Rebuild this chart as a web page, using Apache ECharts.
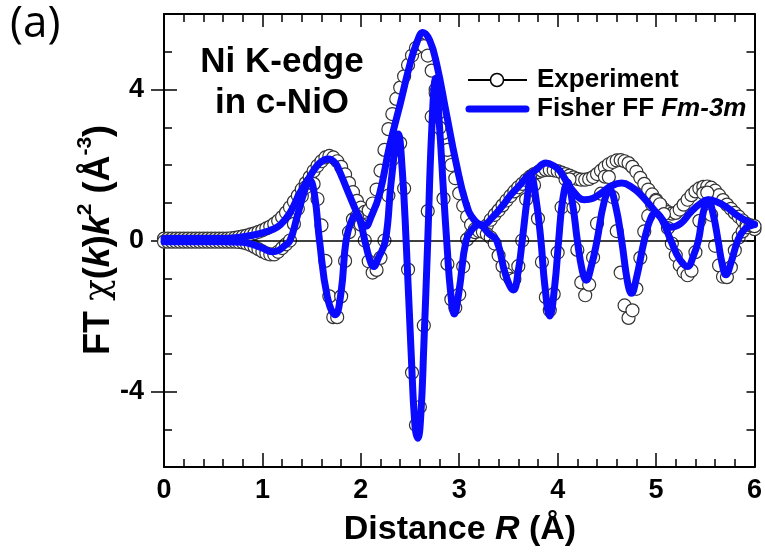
<!DOCTYPE html>
<html>
<head>
<meta charset="utf-8">
<script src="https://cdn.jsdelivr.net/npm/echarts@6/dist/echarts.min.js"></script>
<style>html,body{margin:0;padding:0;background:#fff}#c{width:765px;height:556px}</style>
</head>
<body>
<div id="c"></div>
<script>
// ---- data ----
const X_TICKS = [0, 1, 2, 3, 4, 5, 6];
const Y_TICK_LABELS = [-4, 0, 4];
// Experiment sampled every 0.04 Å from 0 to 6 Å
const EXP_STEP = 0.04;
const EXP_MAG = [
0.05,0.05,0.05,0.05,0.05,0.05,0.05,0.05,0.05,0.05,0.05,0.05,0.05,0.05,0.05,0.05,0.05,0.06,0.07,0.09,
0.11,0.13,0.16,0.19,0.23,0.27,0.32,0.37,0.44,0.52,0.62,0.74,0.88,1.03,1.19,1.36,1.52,1.68,1.84,1.98,
2.10,2.20,2.24,2.20,2.10,1.95,1.75,1.52,1.28,1.05,0.87,0.76,0.80,0.98,1.35,1.85,2.40,2.95,3.35,3.75,
4.05,4.35,4.65,4.90,5.10,5.20,5.15,4.90,4.50,4.00,3.40,2.85,2.40,2.00,1.65,1.25,0.92,0.63,0.42,0.30,
0.25,0.28,0.40,0.55,0.68,0.80,0.93,1.06,1.18,1.30,1.41,1.50,1.60,1.69,1.76,1.81,1.85,1.87,1.87,1.86,
1.84,1.80,1.76,1.72,1.67,1.63,1.61,1.61,1.63,1.68,1.76,1.85,1.94,2.02,2.08,2.12,2.13,2.10,2.05,1.95,
1.82,1.66,1.50,1.35,1.22,1.08,0.95,0.83,0.75,0.71,0.73,0.82,0.95,1.08,1.20,1.30,1.38,1.42,1.43,1.40,
1.32,1.20,1.07,0.95,0.84,0.73,0.63,0.53,0.44,0.36,0.30];
const EXP_IM = [
-0.03,-0.03,-0.03,-0.03,-0.03,-0.03,-0.03,-0.03,-0.03,-0.03,-0.03,-0.03,-0.03,-0.03,-0.03,-0.03,-0.03,-0.03,-0.03,-0.04,
-0.05,-0.08,-0.12,-0.17,-0.23,-0.29,-0.34,-0.37,-0.37,-0.30,-0.20,-0.10,0.00,0.44,0.84,1.17,1.41,1.53,1.50,1.10,
0.40,-0.54,-1.48,-2.03,-2.03,-1.48,-0.54,0.22,0.56,0.64,0.42,0.00,-0.55,-0.85,-0.78,-0.46,0.00,1.19,2.15,2.68,
2.58,1.38,-0.77,-3.50,-4.89,-4.41,-2.25,0.78,3.28,3.91,2.99,1.11,-0.62,-1.56,-1.78,-1.43,-0.69,0.03,0.14,0.22,
0.25,0.23,0.17,0.08,-0.08,-0.40,-0.68,-0.90,-1.02,-1.03,-0.68,0.00,1.09,1.67,1.47,0.58,-0.57,-1.50,-1.85,-1.42,
-0.32,0.88,1.62,1.62,0.87,-0.25,-1.11,-1.45,-1.17,-0.45,0.45,1.24,1.69,1.68,1.15,0.25,-0.85,-1.72,-2.05,-1.85,
-1.28,-0.46,0.24,0.65,0.95,1.05,0.96,0.70,0.33,-0.08,-0.39,-0.65,-0.83,-0.92,-0.80,-0.31,0.52,1.25,1.27,0.68,
-0.14,-0.66,-0.96,-0.97,-0.71,-0.26,0.08,0.24,0.35,0.40,0.38];
// Fisher FF fit (magnitude and imaginary part)
const FIT_MAG_R = [0,0.6,0.8,0.9,1.0,1.1,1.18,1.28,1.38,1.48,1.58,1.67,1.74,1.79,1.89,1.96,2.0,2.05,2.1,2.19,
2.29,2.4,2.5,2.57,2.63,2.7,2.77,2.87,2.97,3.07,3.15,3.24,3.34,3.44,3.52,3.61,3.7,3.78,3.88,3.96,
4.02,4.07,4.16,4.27,4.36,4.45,4.55,4.65,4.75,4.85,4.95,5.05,5.15,5.25,5.35,5.45,5.53,5.62,5.72,5.83,5.92,6.0];
const FIT_MAG = [0.05,0.05,0.1,0.14,0.2,0.29,0.41,0.73,1.26,1.69,2.05,2.16,2.05,1.79,1.16,0.73,0.5,0.38,0.6,1.23,
2.48,3.62,4.68,5.25,5.51,5.3,4.68,3.35,2.03,0.97,0.55,0.41,0.62,0.92,1.2,1.45,1.72,1.87,2.05,1.98,
1.85,1.65,1.3,1.08,1.12,1.27,1.45,1.52,1.42,1.2,0.9,0.6,0.35,0.45,0.75,0.98,1.08,1.02,0.88,0.65,0.52,0.43];
const FIT_IM_R = [0,0.6,0.8,0.9,1.0,1.1,1.16,1.22,1.28,1.35,1.42,1.48,1.53,1.58,1.66,1.74,1.8,1.85,1.91,1.96,
2.0,2.04,2.09,2.13,2.18,2.25,2.31,2.38,2.42,2.46,2.51,2.55,2.58,2.61,2.64,2.68,2.72,2.76,2.8,2.84,
2.88,2.91,2.95,3.0,3.07,3.14,3.2,3.3,3.38,3.47,3.55,3.6,3.64,3.69,3.73,3.78,3.83,3.87,3.92,3.97,
4.01,4.05,4.1,4.15,4.2,4.25,4.29,4.34,4.4,4.47,4.53,4.59,4.65,4.71,4.75,4.8,4.88,4.95,5.0,5.06,
5.15,5.24,5.32,5.38,5.43,5.48,5.53,5.58,5.63,5.67,5.71,5.76,5.83,5.9,6.0];
const FIT_IM = [-0.03,-0.03,-0.05,-0.1,-0.2,-0.3,-0.27,-0.15,0,0.6,1.25,1.6,1.2,0,-1.5,-1.97,-1.35,0,0.55,0.68,
0.45,0,-0.5,-0.69,-0.45,0,1.6,2.82,1.9,0,-2.9,-4.9,-5.24,-4.6,-2.8,0,2.9,4.3,3.0,1.3,
-0.3,-1.3,-1.95,-1.3,0,0.32,0.42,0.18,0,-0.9,-1.31,-0.8,0,1.1,1.73,1.1,0,-1.2,-2.0,-1.2,
0,1.05,1.55,1.0,0,-0.8,-1.05,-0.7,0,1.0,1.34,0.9,0,-1.1,-1.4,-1.0,0,0.62,0.72,0.55,
0,-0.5,-0.69,-0.4,0,0.75,1.07,0.7,0,-0.6,-0.91,-0.6,0,0.3,0.42];

const EXP_NAME = 'Experiment';
const FIT_NAME = 'Fisher FF Fm-3m';

// ---- build ----
const expR = EXP_MAG.map((_, i) => +(i * EXP_STEP).toFixed(2));
const zip = (xs, ys) => xs.map((x, i) => [x, ys[i]]);
const FONT = '"Liberation Sans", Arial, Helvetica, sans-serif';
const BLUE = '#0a0aff';

const expSeries = (vals) => ({
  type: 'line', name: EXP_NAME, data: zip(expR, vals),
  symbol: 'circle', symbolSize: 13, showSymbol: true, showAllSymbol: true,
  lineStyle: { width: 0, opacity: 0 },
  itemStyle: { color: '#fff', borderColor: '#333', borderWidth: 1.2 },
  z: 2, animation: false, silent: true, clip: true
});
const fitSeries = (xs, ys) => ({
  type: 'line', name: FIT_NAME, data: zip(xs, ys),
  symbol: 'none', smooth: 0.45,
  lineStyle: { width: 7, color: BLUE, cap: 'round', join: 'round' },
  itemStyle: { color: BLUE },
  z: 5, animation: false, silent: true, clip: true
});

const axisCommon = {
  min: 0, max: 6, interval: 1, type: 'value',
  axisLine: { show: true, onZero: false, lineStyle: { color: '#000', width: 2 } },
  splitLine: { show: false }
};

const chart = echarts.init(document.getElementById('c'), null, { renderer: 'canvas' });
chart.setOption({
  animation: false,
  backgroundColor: '#fff',
  grid: { left: 164, right: 10, top: 14, bottom: 89, containLabel: false },
  xAxis: [
    Object.assign({}, axisCommon, {
      position: 'bottom',
      axisTick: { show: true, inside: true, length: 14, lineStyle: { color: '#000', width: 1.5 } },
      minorTick: { show: true, splitNumber: 5, length: 8, lineStyle: { color: '#000', width: 1.5 } },
      axisLabel: { show: true, margin: 10, color: '#000', fontFamily: FONT, fontWeight: 'bold', fontSize: 27,
        customValues: X_TICKS }
    }),
    Object.assign({}, axisCommon, {
      position: 'top',
      axisTick: { show: true, inside: true, length: 13, lineStyle: { color: '#000', width: 1.5 } },
      minorTick: { show: true, splitNumber: 5, length: 8, lineStyle: { color: '#000', width: 1.5 } },
      axisLabel: { show: false }
    })
  ],
  yAxis: [
    {
      type: 'value', min: -6, max: 6, interval: 1, position: 'left',
      axisLine: { show: true, onZero: false, lineStyle: { color: '#000', width: 2 } },
      axisTick: { show: true, inside: true, length: 8, lineStyle: { color: '#000', width: 1.5 } },
      splitLine: { show: false },
      axisLabel: { show: true, margin: 20, color: '#000', fontFamily: FONT, fontWeight: 'bold', fontSize: 27,
        customValues: Y_TICK_LABELS, formatter: v => (Y_TICK_LABELS.indexOf(v) >= 0 ? String(v) : '') }
    },
    {
      type: 'value', min: -6, max: 6, interval: 1, position: 'right',
      axisLine: { show: true, onZero: false, lineStyle: { color: '#000', width: 2 } },
      axisTick: { show: true, inside: true, length: 8, lineStyle: { color: '#000', width: 1.5 } },
      splitLine: { show: false }, axisLabel: { show: false }
    },
    {
      type: 'value', min: -6, max: 6, position: 'left', offset: 0,
      axisLine: { show: false },
      axisTick: { show: true, inside: true, length: 13, customValues: Y_TICK_LABELS, lineStyle: { color: '#000', width: 1.5 } },
      splitLine: { show: false }, axisLabel: { show: false }
    },
    {
      type: 'value', min: -6, max: 6, position: 'right', offset: 0,
      axisLine: { show: false },
      axisTick: { show: true, inside: true, length: 13, customValues: Y_TICK_LABELS, lineStyle: { color: '#000', width: 1.5 } },
      splitLine: { show: false }, axisLabel: { show: false }
    }
  ],
  series: [
    expSeries(EXP_MAG),
    expSeries(EXP_IM),
    {
      type: 'line', name: 'zero', data: [], silent: true, z: 3,
      markLine: { silent: true, symbol: ['none', 'none'], label: { show: false },
        lineStyle: { color: '#000', width: 1.5, type: 'solid' }, data: [{ yAxis: 0 }], animation: false }
    },
    fitSeries(FIT_MAG_R, FIT_MAG),
    fitSeries(FIT_IM_R, FIT_IM)
  ],
  graphic: [
    { type: 'text', left: 10, top: 2, z: 10,
      style: { text: '(a)', fontFamily: '"Open Sans", "Noto Sans", sans-serif', fontSize: 44, fill: '#000' } },
    { type: 'text', x: 282, y: 83, z: 10,
      style: { text: 'Ni K-edge\nin c-NiO', fontFamily: FONT, fontWeight: 'bold', fontSize: 35, fill: '#000',
        align: 'center', verticalAlign: 'middle', lineHeight: 41 } },
    // legend
    { type: 'line', z: 10, shape: { x1: 468, y1: 80, x2: 527, y2: 80 }, style: { stroke: '#000', lineWidth: 2 } },
    { type: 'circle', z: 11, shape: { cx: 497, cy: 80, r: 6.5 }, style: { fill: '#fff', stroke: '#000', lineWidth: 1.5 } },
    { type: 'line', z: 10, shape: { x1: 469, y1: 109, x2: 526, y2: 109 }, style: { stroke: BLUE, lineWidth: 7, lineCap: 'round' } },
    { type: 'text', x: 537, y: 80, z: 10,
      style: { text: EXP_NAME, fontFamily: FONT, fontWeight: 'bold', fontSize: 26, fill: '#000', verticalAlign: 'middle' } },
    { type: 'text', x: 537, y: 109, z: 10,
      style: { text: '{b|Fisher FF }{i|Fm-3m}', verticalAlign: 'middle',
        rich: {
          b: { fontFamily: FONT, fontWeight: 'bold', fontSize: 26, fill: '#000' },
          i: { fontFamily: FONT, fontWeight: 'bold', fontStyle: 'italic', fontSize: 26, fill: '#000' }
        } } },
    // axis titles
    { type: 'text', x: 460, y: 530, z: 10,
      style: { text: '{b|Distance }{i|R}{b| (Å)}', align: 'center', verticalAlign: 'middle',
        rich: {
          b: { fontFamily: FONT, fontWeight: 'bold', fontSize: 34, fill: '#000' },
          i: { fontFamily: FONT, fontWeight: 'bold', fontStyle: 'italic', fontSize: 34, fill: '#000' }
        } } },
    { type: 'text', x: 96, y: 240, rotation: Math.PI / 2, z: 10,
      style: { text: '{b|FT }{g|χ}{b|(}{i|k}{b|)}{i|k}{s|2}{b| (Å}{s|-3}{b|)}', align: 'center', verticalAlign: 'middle',
        rich: {
          b: { fontFamily: FONT, fontWeight: 'bold', fontSize: 36, fill: '#000', lineHeight: 42, verticalAlign: 'bottom' },
          i: { fontFamily: FONT, fontWeight: 'bold', fontStyle: 'italic', fontSize: 36, fill: '#000', lineHeight: 42, verticalAlign: 'bottom' },
          g: { fontFamily: '"DejaVu Serif", serif', fontSize: 36, fill: '#000', lineHeight: 42, verticalAlign: 'bottom' },
          s: { fontFamily: FONT, fontWeight: 'bold', fontSize: 21, fill: '#000', lineHeight: 42, verticalAlign: 'top' }
        } } }
  ]
});
</script>
</body>
</html>
